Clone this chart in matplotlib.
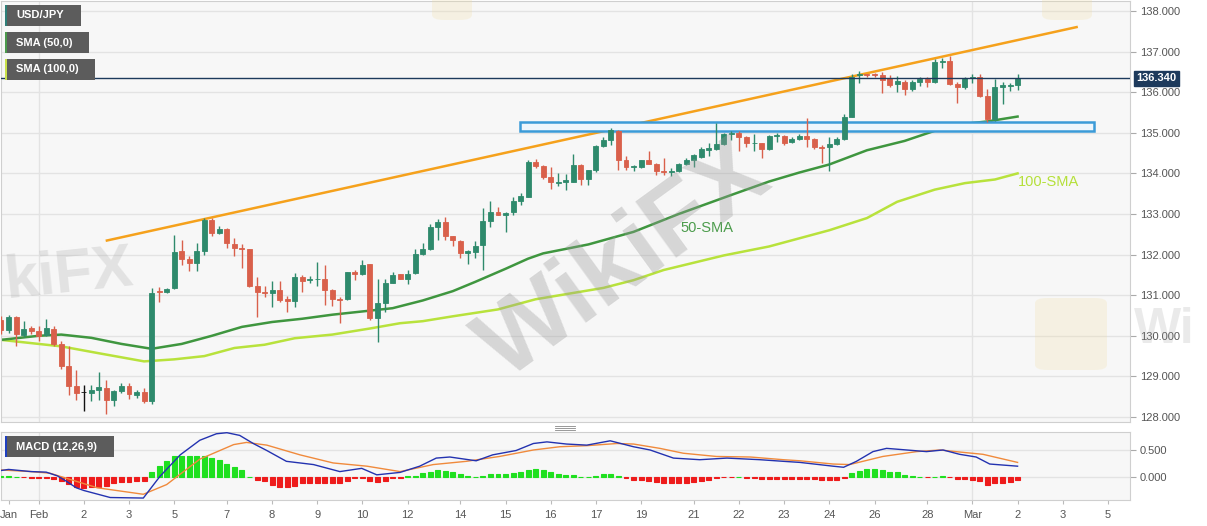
import matplotlib
matplotlib.use("Agg")
import matplotlib.pyplot as plt
import matplotlib.transforms as mtransforms
from matplotlib.patches import Rectangle, FancyBboxPatch
from matplotlib.lines import Line2D
import numpy as np

plt.rcParams['font.family'] = ['Liberation Sans', 'DejaVu Sans']

# ---- 4H candles, USD/JPY ----
opens = [130.40, 130.15, 130.46, 130.03, 130.20, 130.11, 130.02, 130.17, 129.80, 129.25,
         128.77, 128.62, 128.60, 128.66, 128.71, 128.43, 128.63, 128.77, 128.55, 128.62,
         128.39, 131.10, 131.07, 131.18, 132.08, 131.90, 131.80, 132.08, 132.85, 132.53,
         132.63, 132.27, 132.16, 132.14, 131.23, 131.08, 131.05, 131.12, 130.90, 130.85,
         131.44, 131.38, 131.39, 131.40, 131.14, 130.91, 130.91, 131.57, 131.52, 131.76,
         130.45, 130.82, 131.31, 131.51, 131.40, 131.55, 132.01, 132.13, 132.67, 132.80,
         132.46, 132.34, 132.03, 132.07, 132.24, 132.82, 133.04, 132.98, 133.04, 133.33,
         133.43, 134.28, 134.18, 133.91, 133.77, 133.78, 133.80, 134.20, 133.85, 134.08,
         134.67, 134.82, 135.04, 134.34, 134.15, 134.16, 134.32, 134.24, 134.07, 134.03,
         134.05, 134.23, 134.34, 134.41, 134.58, 134.59, 134.72, 134.97, 135.00, 134.90,
         134.74, 134.74, 134.59, 134.91, 134.92, 134.78, 134.85, 134.93, 134.85, 134.65,
         134.64, 134.72, 134.84, 135.40, 136.43, 136.44, 136.44, 136.42, 136.34, 136.20,
         136.25, 136.07, 136.26, 136.32, 136.24, 136.75, 136.78, 136.20, 136.12, 136.34,
         136.37, 135.91, 135.33, 136.12, 136.16, 136.18]
highs = [130.50, 130.52, 130.50, 130.36, 130.25, 130.23, 130.41, 130.23, 129.86, 129.76,
         129.15, 128.80, 128.79, 129.12, 128.90, 128.67, 128.84, 128.84, 128.67, 128.71,
         131.18, 131.20, 131.18, 132.49, 132.37, 131.97, 132.29, 132.90, 132.90, 132.71,
         132.66, 132.40, 132.27, 132.15, 131.45, 131.22, 131.35, 131.35, 130.98, 131.54,
         131.49, 131.47, 131.82, 131.74, 131.16, 130.96, 131.58, 131.62, 131.86, 131.78,
         131.41, 131.41, 131.58, 131.53, 131.63, 132.15, 132.29, 132.75, 132.87, 132.92,
         132.47, 132.36, 132.12, 132.34, 133.15, 133.31, 133.17, 133.06, 133.43, 133.52,
         134.32, 134.36, 134.20, 134.16, 134.01, 133.99, 134.49, 134.24, 134.09, 134.69,
         134.90, 135.12, 135.08, 134.44, 134.20, 134.33, 134.55, 134.25, 134.38, 134.13,
         134.26, 134.37, 134.49, 134.64, 134.74, 135.23, 134.99, 135.05, 135.05, 134.92,
         134.97, 134.76, 134.94, 135.00, 134.94, 134.89, 134.97, 135.36, 134.87, 134.70,
         134.90, 134.89, 135.46, 136.45, 136.51, 136.46, 136.48, 136.50, 136.42, 136.40,
         136.30, 136.30, 136.37, 136.37, 136.81, 136.83, 136.89, 136.26, 136.38, 136.46,
         136.45, 136.07, 136.32, 136.26, 136.23, 136.45]
lows = [130.05, 130.07, 129.74, 129.97, 130.05, 129.86, 129.99, 129.74, 129.18, 128.55,
        128.43, 128.16, 128.40, 128.43, 128.08, 128.26, 128.59, 128.44, 128.47, 128.34,
        128.33, 130.83, 131.05, 131.15, 131.75, 131.59, 131.59, 132.00, 132.45, 132.50,
        132.16, 131.96, 131.68, 131.20, 130.47, 130.96, 130.71, 130.84, 130.59, 130.71,
        131.08, 131.29, 131.22, 130.75, 130.73, 130.32, 130.89, 131.37, 131.50, 130.38,
        129.85, 130.59, 131.29, 131.39, 131.27, 131.53, 131.99, 132.11, 132.36, 132.37,
        132.21, 131.91, 131.78, 131.91, 131.62, 132.69, 132.97, 132.55, 132.98, 133.21,
        133.41, 134.13, 133.87, 133.62, 133.70, 133.60, 133.78, 133.71, 133.72, 134.03,
        134.65, 134.71, 134.08, 134.08, 134.05, 134.13, 134.22, 133.97, 133.97, 133.93,
        134.03, 134.20, 134.15, 134.39, 134.43, 134.57, 134.70, 134.82, 134.56, 134.64,
        134.56, 134.37, 134.57, 134.78, 134.70, 134.74, 134.82, 134.64, 134.61, 134.26,
        134.06, 134.70, 134.82, 135.38, 136.22, 136.37, 136.37, 135.99, 136.12, 136.01,
        135.92, 136.04, 136.15, 136.12, 136.22, 136.59, 136.18, 135.73, 136.07, 136.22,
        135.89, 135.27, 135.30, 135.71, 136.04, 136.05]
closes = [130.15, 130.46, 130.05, 130.17, 130.12, 130.00, 130.18, 129.80, 129.25, 128.77,
          128.60, 128.62, 128.66, 128.73, 128.43, 128.63, 128.76, 128.57, 128.62, 128.40,
          131.05, 131.07, 131.15, 132.06, 131.90, 131.80, 132.08, 132.86, 132.52, 132.63,
          132.29, 132.16, 132.14, 131.23, 131.08, 131.05, 131.12, 130.88, 130.86, 131.44,
          131.35, 131.39, 131.41, 131.14, 130.91, 130.89, 131.56, 131.51, 131.74, 130.45,
          130.82, 131.31, 131.49, 131.41, 131.53, 132.01, 132.13, 132.67, 132.80, 132.46,
          132.35, 132.03, 132.10, 132.22, 132.82, 133.05, 132.98, 133.03, 133.33, 133.45,
          134.28, 134.18, 133.91, 133.78, 133.80, 133.83, 134.20, 133.85, 134.08, 134.67,
          134.82, 135.08, 134.34, 134.16, 134.19, 134.32, 134.24, 134.05, 134.04, 134.05,
          134.24, 134.34, 134.45, 134.59, 134.62, 134.72, 134.97, 135.00, 134.90, 134.74,
          134.76, 134.59, 134.92, 134.94, 134.76, 134.85, 134.93, 134.85, 134.65, 134.62,
          134.72, 134.84, 135.40, 136.37, 136.45, 136.42, 136.42, 136.30, 136.18, 136.27,
          136.07, 136.26, 136.32, 136.24, 136.75, 136.78, 136.20, 136.12, 136.34, 136.37,
          135.91, 135.33, 136.12, 136.18, 136.18, 136.34]

# moving averages, sampled along the curves (candle index, price)
sma50_x = [0, 5, 8, 12, 16, 20, 24, 28, 32, 36, 40, 44, 48, 52, 56, 60, 63, 67, 70, 72,
           78, 84, 90, 97, 102, 106, 110, 115, 120, 124, 128, 131, 135]
sma50_y = [129.90, 130.00, 130.03, 129.95, 129.80, 129.68, 129.80, 130.00, 130.22, 130.34,
           130.42, 130.52, 130.60, 130.68, 130.87, 131.10, 131.33, 131.65, 131.90, 132.03,
           132.25, 132.56, 133.00, 133.47, 133.80, 134.02, 134.22, 134.57, 134.80, 135.05,
           135.22, 135.28, 135.40]
sma100_x = [0, 4, 8, 13, 19, 23, 27, 31, 35, 39, 44, 49, 53, 56, 60, 66, 71, 80, 84, 88,
            96, 102, 106, 110, 115, 119, 124, 128, 132, 135]
sma100_y = [129.90, 129.82, 129.74, 129.57, 129.37, 129.42, 129.50, 129.70, 129.78, 129.94,
            130.03, 130.18, 130.31, 130.36, 130.48, 130.65, 130.90, 131.18, 131.37, 131.62,
            131.98, 132.20, 132.40, 132.60, 132.90, 133.30, 133.60, 133.76, 133.85, 134.00]

# drawn annotations
trend_x = [13.9, 143.0]
trend_y = [132.34, 137.61]
zone_x = [68.9, 145.1]
zone_y = [135.05, 135.27]

# MACD (12,26,9)
macd_hist = [0.01, 0.01, 0.005, -0.005, -0.01, -0.01, -0.01, -0.03, -0.08, -0.13,
             -0.18, -0.20, -0.18, -0.18, -0.17, -0.12, -0.10, -0.085, -0.08, -0.07,
             0.10, 0.21, 0.29, 0.38, 0.39, 0.38, 0.38, 0.39, 0.35, 0.32,
             0.24, 0.18, 0.13, 0.005, -0.05, -0.08, -0.14, -0.18, -0.18, -0.16,
             -0.12, -0.11, -0.11, -0.12, -0.12, -0.12, -0.08, -0.02, -0.02, -0.08,
             -0.09, -0.07, -0.02, -0.01, 0.01, 0.02, 0.07, 0.10, 0.13, 0.12,
             0.085, 0.05, 0.01, 0.005, 0.02, 0.06, 0.06, 0.06, 0.07, 0.085,
             0.13, 0.15, 0.13, 0.09, 0.055, 0.04, 0.035, 0.005, 0.005, 0.025,
             0.05, 0.055, 0.01, -0.01, -0.05, -0.05, -0.08, -0.10, -0.12, -0.12,
             -0.12, -0.11, -0.085, -0.07, -0.05, -0.01, -0.005, -0.005, 0.005, -0.01,
             -0.02, -0.035, -0.035, -0.035, -0.035, -0.035, -0.03, -0.035, -0.035, -0.06,
             -0.06, -0.06, -0.01, 0.07, 0.12, 0.145, 0.15, 0.135, 0.10, 0.085,
             0.04, 0.01, 0.005, 0.0, 0.005, 0.01, -0.005, -0.035, -0.035, -0.05,
             -0.08, -0.14, -0.12, -0.11, -0.085, -0.06]
macd_x = [0, 1, 4, 6, 7.5, 8.7, 10, 11, 14.5, 18.9, 21.1, 23.8, 26.4, 28.6, 30, 31.7,
          33.5, 35.3, 37.9, 41.5, 45, 47.9, 49.9, 53, 55.6, 57.8, 59.6, 63.1, 65.3,
          68.4, 70.7, 72.5, 75.1, 77.8, 80.9, 84, 86.2, 89.3, 92.8, 96.4, 100.8,
          103.9, 106.1, 110.5, 111.9, 113.6, 115.8, 117.6, 119.4, 122.9, 125.1,
          127.3, 129.5, 131.3, 135]
macd_y = [0.12, 0.14, 0.10, 0.09, 0.02, -0.08, -0.20, -0.25, -0.38, -0.39, 0.01, 0.41,
          0.68, 0.80, 0.82, 0.77, 0.62, 0.49, 0.29, 0.23, 0.10, 0.16, 0.04, 0.085, 0.20,
          0.35, 0.37, 0.30, 0.41, 0.49, 0.62, 0.65, 0.61, 0.59, 0.67, 0.56, 0.50, 0.35,
          0.32, 0.35, 0.32, 0.29, 0.27, 0.20, 0.18, 0.29, 0.47, 0.53, 0.51, 0.47, 0.50,
          0.42, 0.37, 0.24, 0.20]
signal_x = [0, 4, 6.5, 9.3, 12.8, 18.9, 22, 26.4, 30.9, 32.6, 35.3, 39.7, 44.1, 48.6,
            53, 57.4, 61.8, 66.2, 70.7, 74.2, 77.8, 81.8, 84, 87.5, 90.6, 95, 99.5,
            103.9, 106.1, 110.5, 112.7, 117.1, 121.6, 124.7, 128.2, 130.4, 135]
signal_y = [0.13, 0.10, 0.07, -0.05, -0.20, -0.32, -0.14, 0.33, 0.60, 0.64, 0.59, 0.41,
            0.26, 0.20, 0.10, 0.23, 0.29, 0.38, 0.50, 0.56, 0.58, 0.62, 0.61, 0.53, 0.44,
            0.38, 0.37, 0.32, 0.30, 0.24, 0.23, 0.38, 0.47, 0.50, 0.45, 0.42, 0.27]

tick_idx = [1, 5, 11, 17, 23, 30, 36, 42, 48, 54, 61, 67, 73, 79, 85, 92, 98, 104, 110,
            116, 123, 129, 135, 141, 147]
tick_lab = ['Jan', 'Feb', '2', '3', '5', '7', '8', '9', '10', '12', '14', '15', '16',
            '17', '19', '21', '22', '23', '24', '26', '28', 'Mar', '2', '3', '5']
month_idx = [5, 129]
price_ticks = [128, 129, 130, 131, 132, 133, 134, 135, 136, 137, 138]
macd_ticks = [0.0, 0.5]

# ---- figure ----
W, H = 1207, 526
fig = plt.figure(figsize=(W / 100, H / 100), dpi=100)
fig.patch.set_facecolor('white')


def fpos(x0, y0, x1, y1):
    return [x0 / W, 1 - y1 / H, (x1 - x0) / W, (y1 - y0) / H]


ax = fig.add_axes(fpos(1, 1, 1130, 422))
axm = fig.add_axes(fpos(1, 432, 1130, 500))

bg = '#f7f7f7'
gridc = '#e3e3e3'
up_c, dn_c = '#2e8a6c', '#d9604b'

for a in (ax, axm):
    a.set_facecolor(bg)
    for s in a.spines.values():
        s.set_color('#cfcfcf')
    a.set_xlim(0, 149.93)
    for m in month_idx:
        a.axvline(m, color=gridc, lw=1, zorder=0)
    a.yaxis.tick_right()
    a.tick_params(axis='y', direction='out', length=4, color='#aaaaaa',
                  labelsize=8, labelcolor='#555555', pad=3)
    a.grid(axis='y', color=gridc, lw=1, zorder=0)
    a.set_axisbelow(True)

ax.set_ylim(127.877, 138.246)
ax.set_yticks(price_ticks)
ax.set_yticklabels(['%.3f' % p for p in price_ticks])
ax.tick_params(axis='x', bottom=False, labelbottom=False)

axm.set_ylim(-0.426, 0.833)
axm.set_yticks(macd_ticks)
axm.set_yticklabels(['%.3f' % v for v in macd_ticks])
axm.set_xticks(tick_idx)
axm.set_xticklabels(tick_lab)
axm.tick_params(axis='x', direction='out', length=3, color='#bbbbbb',
                labelsize=8, labelcolor='#555555', pad=4)

# candles
idx = np.arange(len(opens))
o = np.array(opens); c = np.array(closes)
hi = np.array(highs); lo = np.array(lows)
cols = [up_c if cc > oo else (dn_c if cc < oo else '#111111') for oo, cc in zip(o, c)]
ax.vlines(idx, lo, hi, colors=cols, lw=1, zorder=3)
ax.bar(idx, np.abs(c - o), bottom=np.minimum(o, c), width=0.66, color=cols,
       edgecolor=cols, linewidth=0.6, zorder=4)

# moving averages
ax.plot(sma100_x, sma100_y, color='#b8e23c', lw=1.8, zorder=2)
ax.plot(sma50_x, sma50_y, color='#3f963f', lw=1.8, zorder=2)
ax.text(90.2, 132.66, '50-SMA', color='#4c9c4c', fontsize=10.5, va='center', zorder=6)
ax.text(135.1, 133.79, '100-SMA', color='#b5e03a', fontsize=10.5, va='center', zorder=6)

# resistance line and support zone
ax.plot(trend_x, trend_y, color='#f5a11c', lw=1.8, zorder=2, solid_capstyle='butt')
ax.add_patch(Rectangle((zone_x[0], zone_y[0]), zone_x[1] - zone_x[0], zone_y[1] - zone_y[0],
                       facecolor='#eef6fc', edgecolor='#3b9bd8', lw=1.8, zorder=2))

# last price line and tag
last = closes[-1]
ax.axhline(last, color='#1d3a5c', lw=1, zorder=5)
trans = mtransforms.blended_transform_factory(ax.transAxes, ax.transData)
ax.text(1.0055, last, '%.3f' % last, transform=trans, ha='left', va='center',
        fontsize=8, fontweight='bold', color='white', clip_on=False, zorder=7,
        bbox=dict(boxstyle='square,pad=0.22', fc='#1d3a5c', ec='#1d3a5c'))

# MACD panel
hcols = ['#1fe01f' if v > 0 else '#ee1b1b' for v in macd_hist]
axm.bar(idx, macd_hist, width=0.66, color=hcols, edgecolor=hcols, linewidth=0.8, zorder=3)
axm.plot(signal_x, signal_y, color='#f08a3c', lw=1, zorder=4)
axm.plot(macd_x, macd_y, color='#2332b0', lw=1, zorder=5)

# watermark
fig.text(625 / W, 1 - 262 / H, 'WikiFX', fontsize=72, fontweight='bold', color='#9a9a9a',
         alpha=0.35, rotation=36, ha='center', va='center', zorder=8)
fig.text(2 / W, 1 - 276 / H, 'kiFX', fontsize=44, fontweight='bold', color='#9a9a9a',
         alpha=0.22, rotation=6, ha='left', va='center', zorder=8)
fig.text(1134 / W, 1 - 330 / H, 'Wi', fontsize=36, fontweight='bold', color='#9a9a9a',
         alpha=0.2, ha='left', va='center', zorder=8)
for (x0, y0, w, h) in [(1035, 298, 72, 72), (432, -20, 40, 40), (1042, -25, 50, 45)]:
    fig.add_artist(FancyBboxPatch((x0 / W, 1 - (y0 + h) / H), w / W, h / H,
                                  boxstyle='round,pad=0,rounding_size=0.01',
                                  transform=fig.transFigure, fc='#f2dfa6', ec='none',
                                  alpha=0.25, zorder=8))

# legend tags, top left
tags = [('USD/JPY', 5, 81, '#2e7f78'), ('SMA (50,0)', 32, 89, '#4c9a4c'),
        ('SMA (100,0)', 59, 95, '#c8e04a'), ('MACD (12,26,9)', 436, 114, '#1f3fbf')]
for text, ytop, xr, sc in tags:
    fig.add_artist(Rectangle((5 / W, 1 - (ytop + 21) / H), (xr - 5) / W, 21 / H,
                             transform=fig.transFigure, fc='#5c5c5c', ec='none', zorder=9))
    fig.add_artist(Rectangle((5 / W, 1 - (ytop + 21) / H), 2 / W, 21 / H,
                             transform=fig.transFigure, fc=sc, ec='none', zorder=10))
    fig.text(16 / W, 1 - (ytop + 10.5) / H, text, fontsize=8, fontweight='bold',
             color='white', va='center', ha='left', zorder=10)

# pane resize grip
for yy in (425.5, 427.5, 429.5):
    fig.add_artist(Line2D([555 / W, 575 / W], [1 - yy / H, 1 - yy / H], lw=0.6,
                          color='#888888', transform=fig.transFigure))

fig.savefig('out.png', dpi=100, facecolor='white')
